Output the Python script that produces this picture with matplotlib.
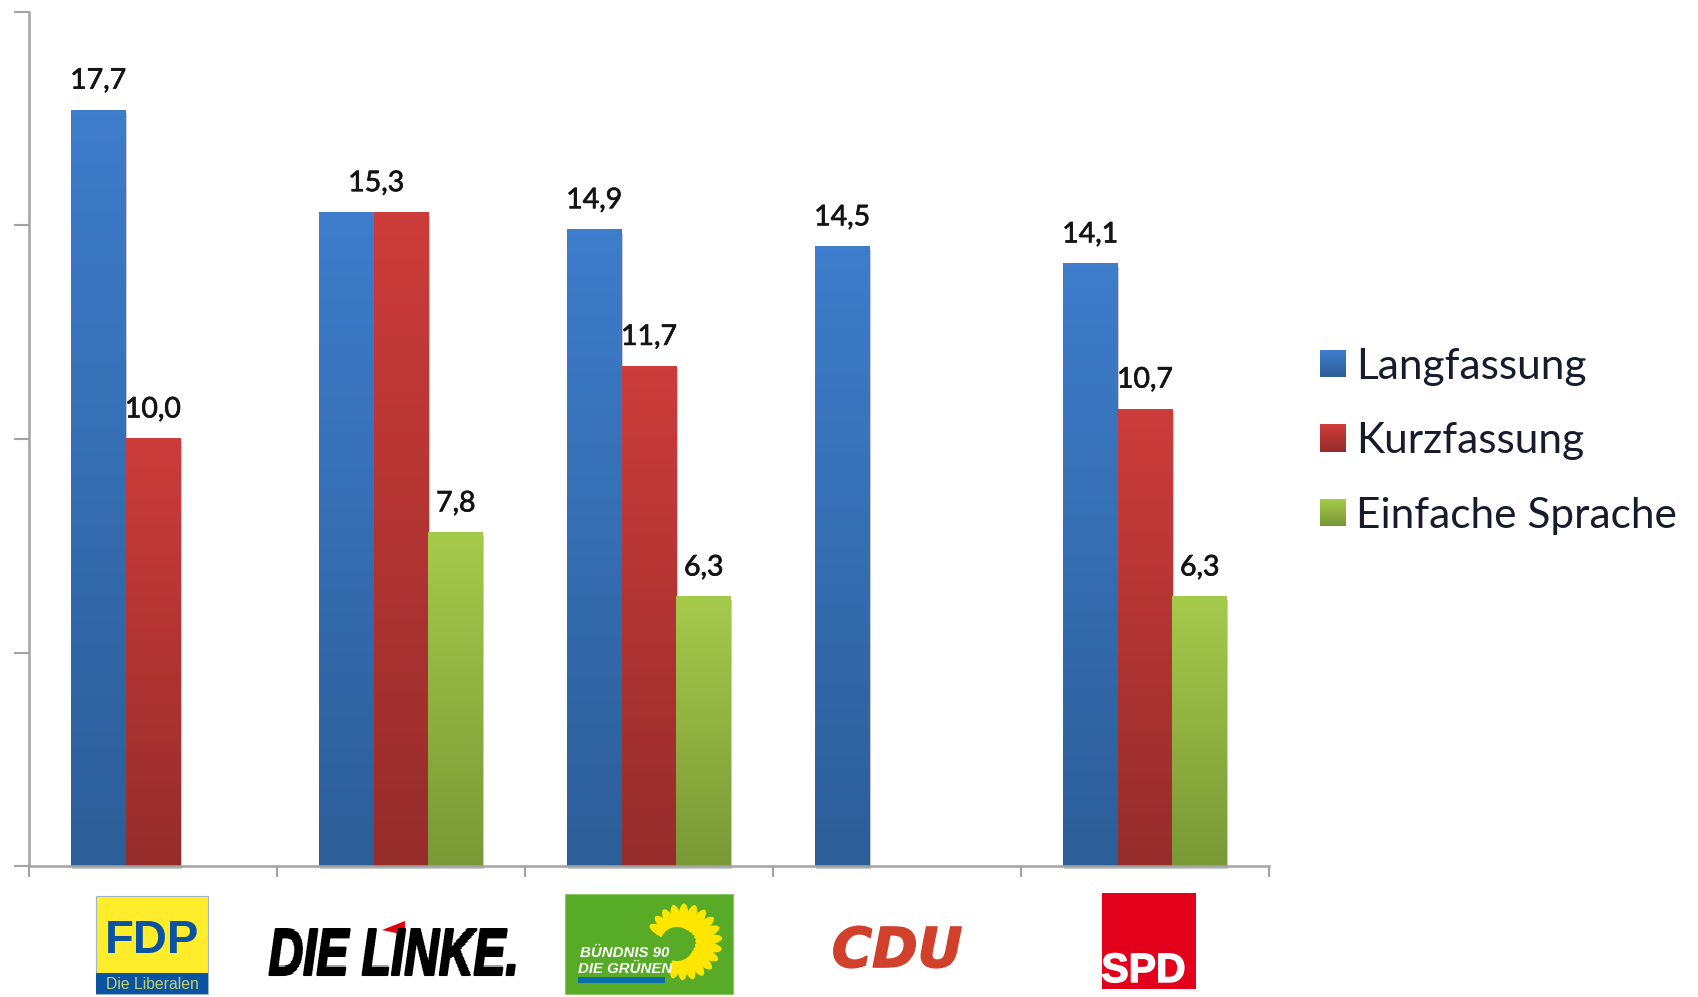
import numpy as np
import matplotlib
matplotlib.use('Agg')
import matplotlib.pyplot as plt
import matplotlib.patheffects as pe
from matplotlib.colors import LinearSegmentedColormap
from matplotlib.legend_handler import HandlerBase
from matplotlib.patches import Rectangle, Polygon, Ellipse, Circle

# Data
parties = ['FDP', 'DIE LINKE.', 'BÜNDNIS 90 / DIE GRÜNEN', 'CDU', 'SPD']
lang = [17.7, 15.3, 14.9, 14.5, 14.1]
kurz = [10.0, 15.3, 11.7, np.nan, 10.7]
einfach = [np.nan, 7.8, 6.3, np.nan, 6.3]
series_names = ['Langfassung', 'Kurzfassung', 'Einfache Sprache']
yticks = [0, 5, 10, 15, 20]

# (top colour, bottom colour) of the bar gradients
grads = [('#3e7dcb', '#2c5e98'), ('#cc3c3a', '#962d2b'), ('#a5ca4b', '#799936')]
axis_col = '#a3a3a3'
W, H = 1699, 997

plt.rcParams['font.family'] = ['Lato', 'DejaVu Sans']

fig = plt.figure(figsize=(W/100, H/100), dpi=100)
ax = fig.add_axes([29/W, 1 - 866/H, (1269 - 29)/W, (866 - 12)/H])

width = 0.221
shadow = [pe.SimplePatchShadow(offset=(0.8, -2.0), shadow_rgbFace='#555555', alpha=0.3),
          pe.Normal()]

for j, (vals, grad) in enumerate(zip((lang, kurz, einfach), grads)):
    xpos = np.arange(5) + 0.5 + (j - 1)*width
    bars = ax.bar(xpos, vals, width, color=grad[1], clip_on=False, zorder=2)
    cmap = LinearSegmentedColormap.from_list('g', grad)
    for i, bar in enumerate(bars):
        val = vals[i]
        if np.isnan(val):
            continue
        bar.set_path_effects(shadow)
        x0, w = bar.get_x(), bar.get_width()
        # Gradient fill, stretched over the bar
        ax.imshow(np.linspace(0, 1, 128).reshape(-1, 1), cmap=cmap, aspect='auto',
                  extent=(x0, x0 + w, 0, val), zorder=3)
        # Linke has one label for both Lang and Kurz, sitting between them
        if i == 1 and j == 1:
            continue
        xlab = xpos[i] + (width*0.55 if (i == 1 and j == 0) else 0)
        ax.annotate(f'{val:.1f}'.replace('.', ','), (xlab, val), xytext=(0, 15.5),
                    textcoords='offset points', ha='center', va='baseline',
                    fontsize=20.5, color='#141414', zorder=4,
                    path_effects=[pe.withStroke(linewidth=0.5, foreground='#141414')])

ax.set_xlim(0, 5)
ax.set_ylim(0, 20)
ax.set_xticks(range(6))
ax.set_yticks(yticks)
ax.set_xticklabels([])
ax.set_yticklabels([])
ax.tick_params(axis='y', direction='out', length=11, width=1.5, color=axis_col)
ax.tick_params(axis='x', direction='out', length=8, width=1.5, color=axis_col)
for side in ('top', 'right'):
    ax.spines[side].set_visible(False)
for side in ('left', 'bottom'):
    ax.spines[side].set_color(axis_col)
    ax.spines[side].set_linewidth(1.8)
    ax.spines[side].set_zorder(5)


# Legend swatch with the same vertical gradient as the bars
class GradHandler(HandlerBase):
    def __init__(self, grad):
        super().__init__()
        self.cmap = LinearSegmentedColormap.from_list('g', grad)

    def create_artists(self, legend, orig, xd, yd, width, height, fontsize, trans):
        n = 24
        arts = []
        for k in range(n):
            arts.append(Rectangle((-xd, -yd + height*(n - 1 - k)/n), width, height/n + 0.3,
                                  fc=self.cmap(k/(n - 1)), ec='none', transform=trans))
        return arts


handles = [Rectangle((0, 0), 1, 1, label=s) for s in series_names]
fig.legend(handles=handles, labels=series_names, loc='upper left',
           bbox_to_anchor=(1307/W, 1 - 335/H), frameon=False, fontsize=30.5,
           labelcolor='#161c2c', handlelength=0.61, handleheight=0.61,
           handletextpad=0.25, labelspacing=0.86, borderpad=0.3, borderaxespad=0,
           handler_map={h: GradHandler(g) for h, g in zip(handles, grads)})

################################################################################
# Party logos, in pixel coordinates of the picture


def stretch_y(k):
    # agg_filter: makes text taller, keeps its baseline
    def flt(img, dpi):
        h = img.shape[0]
        rows = np.linspace(0, h - 1, int(h*k)).astype(int)
        return img[rows], 0, 0
    return flt


lg = fig.add_axes([0, 0, 1, 1], zorder=10)
lg.set_xlim(0, W)
lg.set_ylim(H, 0)
lg.axis('off')
lg.patch.set_alpha(0)

# FDP
lg.add_patch(Rectangle((96.5, 896), 111.5, 98, fc='#ffed2c', ec='#9db7c9', lw=0.8))
lg.add_patch(Rectangle((96.5, 973), 111.5, 21, fc='#0a52a2', ec='none'))
lg.text(152.5, 953, 'FDP', family='Liberation Sans', weight='bold', fontsize=34,
        color='#0a52a2', ha='center', va='baseline')
lg.text(152.5, 989, 'Die Liberalen', family='Liberation Sans', fontsize=11.3,
        color='#c3d36a', ha='center', va='baseline')

# Die Linke
lg.text(393.5, 975, 'DIE LINKE.', family='Liberation Sans', weight='bold', style='italic',
        fontsize=34.5, color='black', ha='center', va='baseline',
        agg_filter=stretch_y(1.38),
        path_effects=[pe.withStroke(linewidth=1.5, foreground='black')])
lg.add_patch(Polygon([(382, 930), (405, 921), (405, 935)], fc='#e2000f', ec='none'))

# Gruene
lg.add_patch(Rectangle((565, 894), 168, 100, fc='#57ab27', ec='#8cc56c', lw=0.8))
fcx, fcy = 682, 943
for ang in np.arange(-105, 160, 16):
    r = 23 + 4*np.sin(np.radians((ang + 105)*180/265))
    px = fcx + r*np.cos(np.radians(ang))
    py = fcy - r*np.sin(np.radians(ang))
    lg.add_patch(Ellipse((px, py), 27, 10, angle=-ang, fc='#ffe600', ec='none'))
lg.add_patch(Circle((677, 944), 17, fc='#57ab27', ec='none'))
lg.add_patch(Rectangle((578, 977), 87, 6, fc='#0a6eaa', ec='none'))
for txt, yb in (('BÜNDNIS 90', 957), ('DIE GRÜNEN', 973)):
    lg.text(625, yb, txt, family='Liberation Sans', weight='bold', style='italic',
            fontsize=10.8, color='white', ha='center', va='baseline')

# CDU
lg.text(897, 967, 'CDU', family='DejaVu Sans', weight='bold', style='italic',
        fontsize=39.5, color='#d0402a', ha='center', va='baseline',
        path_effects=[pe.withStroke(linewidth=1.2, foreground='#d0402a')])

# SPD
lg.add_patch(Rectangle((1101.7, 893), 94.3, 96, fc='#e3001b', ec='none'))
lg.text(1143.5, 982, 'SPD', family='Liberation Sans', weight='bold', fontsize=29.5,
        color='white', ha='center', va='baseline',
        path_effects=[pe.withStroke(linewidth=1, foreground='white')])

fig.savefig('out.png', dpi=100)
